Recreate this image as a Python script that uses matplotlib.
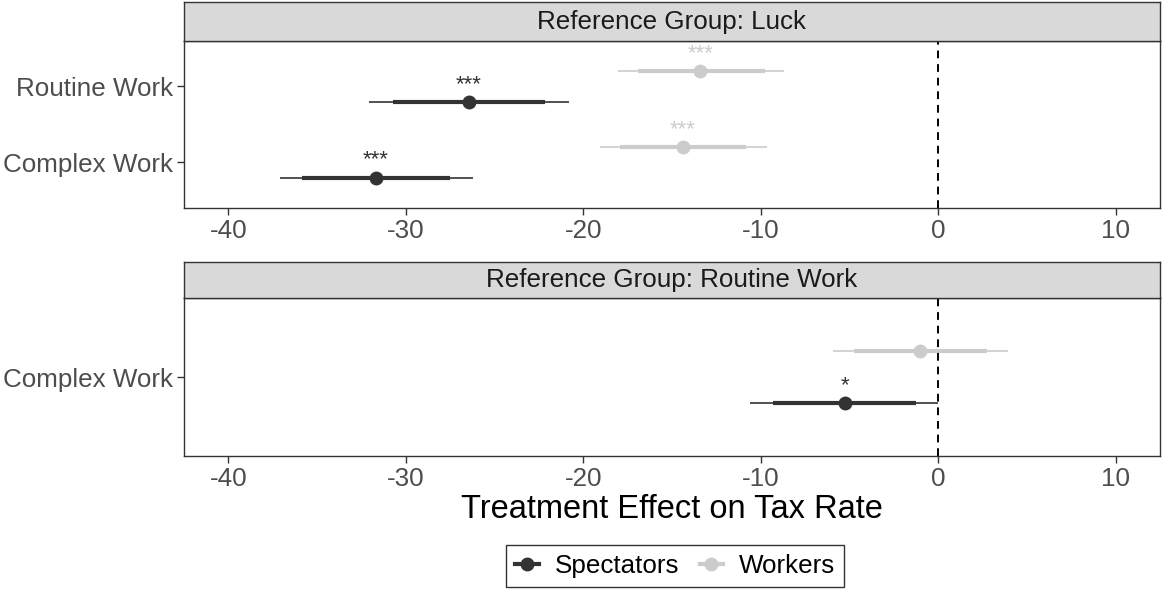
import matplotlib
matplotlib.use("Agg")
import matplotlib.pyplot as plt
from matplotlib.lines import Line2D

plt.rcParams['font.family'] = ['Liberation Sans', 'DejaVu Sans']

# panel 1: reference group luck
luck_terms = ["Complex Work", "Routine Work"]
luck_spec_est = [-31.70, -26.45]
luck_spec_lo95 = [-35.87, -30.71]
luck_spec_hi95 = [-27.50, -22.16]
luck_spec_lo99 = [-37.10, -32.07]
luck_spec_hi99 = [-26.22, -20.80]
luck_spec_stars = ["***", "***"]

luck_work_est = [-14.37, -13.40]
luck_work_lo95 = [-17.93, -16.94]
luck_work_hi95 = [-10.81, -9.77]
luck_work_lo99 = [-19.06, -18.06]
luck_work_hi99 = [-9.67, -8.66]
luck_work_stars = ["***", "***"]

# panel 2: reference group routine work
rout_terms = ["Complex Work"]
rout_spec_est = [-5.27]
rout_spec_lo95 = [-9.31]
rout_spec_hi95 = [-1.22]
rout_spec_lo99 = [-10.58]
rout_spec_hi99 = [0.00]
rout_spec_stars = ["*"]

rout_work_est = [-1.01]
rout_work_lo95 = [-4.76]
rout_work_hi95 = [2.75]
rout_work_lo99 = [-5.93]
rout_work_hi99 = [3.95]
rout_work_stars = [""]

x_ticks = [-40, -30, -20, -10, 0, 10]
dark = "#333333"
light = "#cccccc"
txt = "#4d4d4d"
fs = 18.7


def draw_series(ax, ys, est, lo95, hi95, lo99, hi99, stars, color):
    for y, e, a, b, c, d, s in zip(ys, est, lo95, hi95, lo99, hi99, stars):
        ax.plot([c, d], [y, y], color=color, lw=1.2, solid_capstyle='butt', zorder=2)
        ax.plot([a, b], [y, y], color=color, lw=3.0, solid_capstyle='butt', zorder=3)
        ax.plot([e], [y], 'o', color=color, ms=9, zorder=4)
        if s:
            ax.annotate(s, (e, y), xytext=(0, 5), textcoords='offset points',
                        ha='center', va='bottom', fontsize=16, color=color)


def style_panel(ax, terms, title, fig, strip_rect):
    ax.set_xlim(-42.5, 12.5)
    ax.set_ylim(-0.6, len(terms) - 0.4)
    ax.set_yticks(range(len(terms)))
    ax.set_yticklabels(terms)
    ax.set_xticks(x_ticks)
    ax.set_xticklabels([str(t) for t in x_ticks])
    ax.tick_params(labelsize=fs, labelcolor=txt, color=dark, length=5, width=1, pad=3)
    for sp in ax.spines.values():
        sp.set_color(dark)
        sp.set_linewidth(1.0)
    ax.axvline(0, color='black', ls=(0, (4, 3)), lw=1.4, zorder=6)
    sax = fig.add_axes(strip_rect)
    sax.set_facecolor("#d9d9d9")
    sax.set_xticks([])
    sax.set_yticks([])
    for sp in sax.spines.values():
        sp.set_color(dark)
        sp.set_linewidth(1.0)
    sax.text(0.5, 0.5, title, ha='center', va='center', fontsize=fs,
             color="#1a1a1a", transform=sax.transAxes)


fig = plt.figure(figsize=(11.62, 5.9), dpi=100)

ax1 = fig.add_axes([0.1583, 0.6475, 0.8399, 0.2831])
ys1 = list(range(len(luck_terms)))
draw_series(ax1, [y - 0.2 for y in ys1], luck_spec_est, luck_spec_lo95, luck_spec_hi95,
            luck_spec_lo99, luck_spec_hi99, luck_spec_stars, dark)
draw_series(ax1, [y + 0.2 for y in ys1], luck_work_est, luck_work_lo95, luck_work_hi95,
            luck_work_lo99, luck_work_hi99, luck_work_stars, light)
style_panel(ax1, luck_terms, "Reference Group: Luck", fig, [0.1583, 0.9305, 0.8399, 0.0661])

ax2 = fig.add_axes([0.1583, 0.2271, 0.8399, 0.2678])
ys2 = list(range(len(rout_terms)))
draw_series(ax2, [y - 0.2 for y in ys2], rout_spec_est, rout_spec_lo95, rout_spec_hi95,
            rout_spec_lo99, rout_spec_hi99, rout_spec_stars, dark)
draw_series(ax2, [y + 0.2 for y in ys2], rout_work_est, rout_work_lo95, rout_work_hi95,
            rout_work_lo99, rout_work_hi99, rout_work_stars, light)
style_panel(ax2, rout_terms, "Reference Group: Routine Work", fig, [0.1583, 0.4949, 0.8399, 0.061])

fig.text(0.578, 0.137, "Treatment Effect on Tax Rate", ha='center', va='center',
         fontsize=23.5, color='black')

handles = [Line2D([0], [0], color=dark, lw=3, marker='o', ms=9),
           Line2D([0], [0], color=light, lw=3, marker='o', ms=9)]
leg = fig.legend(handles, ["Spectators", "Workers"], loc='center',
                 bbox_to_anchor=(0.581, 0.0407), ncol=2, fontsize=fs,
                 frameon=True, fancybox=False, handlelength=0.9,
                 columnspacing=0.8, handletextpad=0.6, borderpad=0.35,
                 borderaxespad=0)
leg.get_frame().set_edgecolor('black')
leg.get_frame().set_linewidth(1.0)

fig.savefig("out.png", dpi=100)
